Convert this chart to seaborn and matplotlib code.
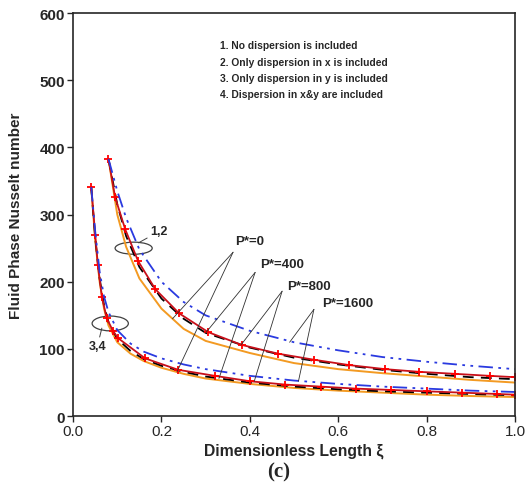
import matplotlib
matplotlib.use("Agg")
import matplotlib.pyplot as plt
import seaborn as sns
from matplotlib.patches import Ellipse

# group "1,2" (upper curves)
up_x_orange = [0.08, 0.10, 0.12, 0.15, 0.20, 0.25, 0.30, 0.40, 0.50, 0.60, 0.70, 0.80, 0.90, 1.00]
up_y_orange = [383, 300, 252, 205, 160, 130, 112, 94, 79, 70, 64, 59, 54, 50]
up_x_black = [0.08, 0.10, 0.12, 0.15, 0.20, 0.25, 0.30, 0.40, 0.50, 0.60, 0.70, 0.80, 0.90, 1.00]
up_y_black = [383, 315, 268, 222, 175, 145, 124, 102, 87, 77, 69, 63, 58, 55]
up_x_red = [0.08, 0.095, 0.118, 0.147, 0.186, 0.24, 0.306, 0.382, 0.464, 0.545, 0.625, 0.706, 0.783, 0.864, 0.943, 1.00]
up_y_red = [383, 326, 278, 231, 189, 153, 125, 106, 93, 84, 76, 70, 66, 63, 60, 58]
up_x_blue = [0.08, 0.10, 0.12, 0.15, 0.20, 0.25, 0.30, 0.40, 0.50, 0.60, 0.70, 0.80, 0.90, 1.00]
up_y_blue = [383, 335, 295, 248, 200, 170, 150, 127, 110, 98, 88, 81, 75, 70]

# group "3,4" (lower curves)
lo_x_orange = [0.041, 0.05, 0.06, 0.07, 0.08, 0.10, 0.13, 0.16, 0.20, 0.25, 0.30, 0.40, 0.50, 0.60, 0.70, 0.80, 0.90, 1.00]
lo_y_orange = [341, 262, 200, 160, 135, 110, 93, 82, 72, 63, 56, 48, 42, 38, 35, 32, 30, 28.5]
lo_x_black = [0.041, 0.05, 0.06, 0.07, 0.08, 0.10, 0.13, 0.16, 0.20, 0.25, 0.30, 0.40, 0.50, 0.60, 0.70, 0.80, 0.90, 1.00]
lo_y_black = [341, 265, 205, 165, 140, 115, 97, 85, 75, 66, 59, 50, 44, 40, 37, 35, 33, 31]
lo_x_red = [0.041, 0.05, 0.056, 0.065, 0.076, 0.09, 0.102, 0.163, 0.238, 0.321, 0.40, 0.48, 0.56, 0.64, 0.72, 0.80, 0.88, 0.96, 1.00]
lo_y_red = [341, 270, 225, 178, 146, 127, 116, 86, 69, 60, 52, 47, 44, 41, 39, 37, 35, 33, 32]
lo_x_blue = [0.041, 0.05, 0.06, 0.07, 0.08, 0.10, 0.13, 0.16, 0.20, 0.25, 0.30, 0.40, 0.50, 0.60, 0.70, 0.80, 0.90, 1.00]
lo_y_blue = [341, 275, 215, 178, 155, 128, 108, 96, 86, 77, 70, 60, 53, 48, 44, 41, 38, 36]

notes = [
    "1. No dispersion is included",
    "2. Only dispersion in x is included",
    "3. Only dispersion in y is included",
    "4. Dispersion in x&y are included",
]
p_labels = ["P*=0", "P*=400", "P*=800", "P*=1600"]

sns.set_style("ticks")
plt.rcParams["font.family"] = ["Liberation Sans", "DejaVu Sans"]

fig = plt.figure(figsize=(5.26, 5.02), dpi=100)
ax = fig.add_axes([0.139, 0.169, 0.840, 0.803])

ORANGE = "#f39a22"
RED = "#c8101a"
BLUE = "#2a3ae0"

for xs, ys in [(up_x_orange, up_y_orange), (lo_x_orange, lo_y_orange)]:
    sns.lineplot(x=xs, y=ys, ax=ax, color=ORANGE, lw=1.4, sort=False, errorbar=None)
for xs, ys in [(up_x_black, up_y_black), (lo_x_black, lo_y_black)]:
    sns.lineplot(x=xs, y=ys, ax=ax, color="black", lw=1.3, linestyle=(0, (6, 4)),
                 sort=False, errorbar=None)
for xs, ys in [(up_x_red, up_y_red), (lo_x_red, lo_y_red)]:
    sns.lineplot(x=xs, y=ys, ax=ax, color=RED, lw=1.3, marker="+", markersize=6,
                 markeredgewidth=1.3, markeredgecolor="red", sort=False, errorbar=None)
for xs, ys in [(up_x_blue, up_y_blue), (lo_x_blue, lo_y_blue)]:
    sns.lineplot(x=xs, y=ys, ax=ax, color=BLUE, lw=1.3,
                 linestyle=(0, (8, 3, 1.5, 3, 1.5, 3)), sort=False, errorbar=None)

ax.set_xlim(0, 1.0)
ax.set_ylim(0, 600)
ax.set_xticks([0.0, 0.2, 0.4, 0.6, 0.8, 1.0])
ax.set_yticks(range(0, 601, 100))
ax.tick_params(direction="out", length=4, width=1, pad=2, labelsize=11)
for lab in ax.get_yticklabels():
    lab.set_fontweight("bold")
for sp in ax.spines.values():
    sp.set_linewidth(1.2)

ax.set_xlabel("Dimensionless Length ξ", fontsize=11.3, fontweight="bold", labelpad=3)
ax.set_ylabel("Fluid Phase Nusselt number", fontsize=11, fontweight="bold", labelpad=12)

for i, t in enumerate(notes):
    ax.text(0.333, 552 - i * 24.3, t, fontsize=7.4, fontweight="bold", va="center", ha="left")

# group markers
ax.add_patch(Ellipse((0.137, 250), 0.084, 18, fill=False, edgecolor="#404040", lw=0.9))
ax.add_patch(Ellipse((0.084, 138), 0.082, 22, fill=False, edgecolor="#404040", lw=0.9))
ax.annotate("1,2", xy=(0.148, 258), xytext=(0.175, 275), fontsize=9, fontweight="bold",
            va="center", arrowprops=dict(arrowstyle="-", lw=0.7, color="#404040",
                                         shrinkA=0, shrinkB=0))
ax.annotate("3,4", xy=(0.065, 131), xytext=(0.035, 104), fontsize=9, fontweight="bold",
            va="center", arrowprops=dict(arrowstyle="-", lw=0.7, color="#404040",
                                         shrinkA=0, shrinkB=0))

# P* labels with leader lines
label_pos = [(0.367, 261), (0.423, 226), (0.484, 194), (0.563, 169)]
leader_origin = [(0.362, 244), (0.412, 214), (0.473, 186), (0.545, 159)]
leader_ends = [
    [(0.225, 145), (0.235, 66)],
    [(0.30, 124), (0.33, 56)],
    [(0.38, 106), (0.41, 52)],
    [(0.49, 110), (0.51, 52)],
]
for lab, pos, org, ends in zip(p_labels, label_pos, leader_origin, leader_ends):
    ax.text(pos[0], pos[1], lab, fontsize=9.5, fontweight="bold", va="center", ha="left")
    for e in ends:
        ax.plot([org[0], e[0]], [org[1], e[1]], color="#303030", lw=0.6)

fig.text(0.530, 0.058, "(c)", fontsize=15, fontweight="bold", family="Liberation Serif",
         ha="center", va="center")

fig.savefig("out.png", dpi=100)
